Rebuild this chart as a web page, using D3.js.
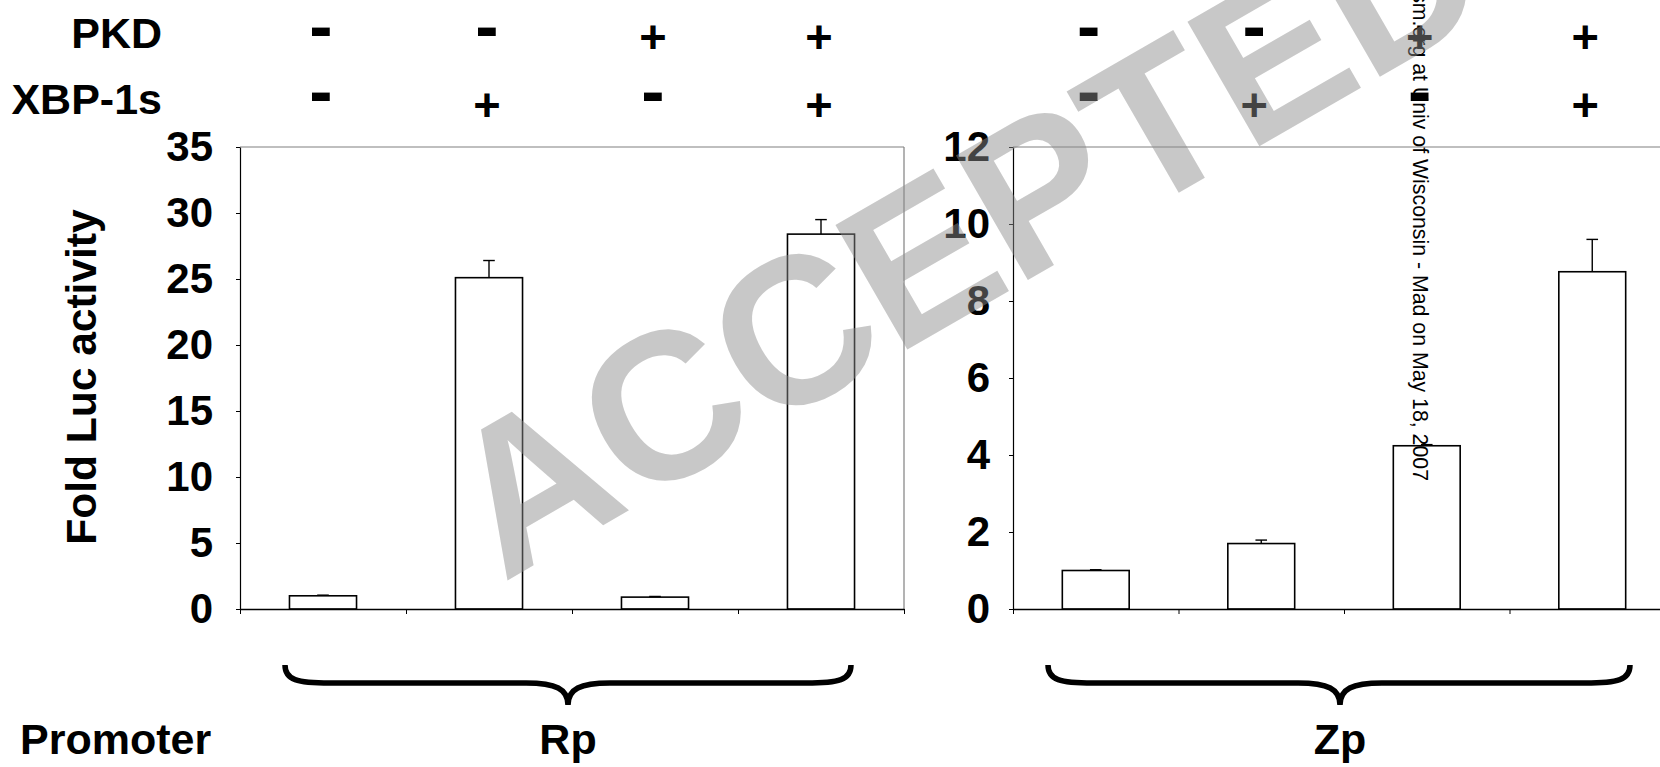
<!DOCTYPE html>
<html>
<head>
<meta charset="utf-8">
<script src="https://cdnjs.cloudflare.com/ajax/libs/d3/7.8.5/d3.min.js"></script>
<style>
  body { margin: 0; background: #fff; }
  svg { display: block; font-family: "Liberation Sans", Arial, sans-serif; }
</style>
</head>
<body>
<div id="chart"></div>
<script>
// values
var conditions = ["c1", "c2", "c3", "c4"];
var pkdSigns = ["-", "-", "+", "+"];
var xbpSigns = ["-", "+", "-", "+"];
var rpValues = [1.0, 25.1, 0.9, 28.4];
var rpErrors = [0.05, 1.3, 0.05, 1.1];
var zpValues = [1.0, 1.7, 4.24, 8.76];
var zpErrors = [0.02, 0.09, 0.03, 0.84];
var rpTicks = [0, 5, 10, 15, 20, 25, 30, 35];
var zpTicks = [0, 2, 4, 6, 8, 10, 12];
var rowLabels = ["PKD", "XBP-1s"];
var yTitle = "Fold Luc activity";
var groupTitle = "Promoter";
var watermark = "ACCEPTED";
var downloadNote = "Downloaded from jvi.asm.org at Univ of Wisconsin - Mad on May 18, 2007";

var width = 1660, height = 767;
var plotTop = 147, plotBottom = 609;
var labelSize = 43, tickSize = 42;

var panels = [
  {name: "Rp", values: rpValues, errors: rpErrors, ticks: rpTicks, max: 35,
   x0: 240, x1: 904, pad: 23, signShift: -2, frameRight: true, brace: [285, 851, 568]},
  {name: "Zp", values: zpValues, errors: zpErrors, ticks: zpTicks, max: 12,
   x0: 1013, x1: 1675, pad: 19, signShift: -7, frameRight: false, brace: [1048, 1630, 1340]}
];

var svg = d3.select("#chart").append("svg")
  .attr("width", width)
  .attr("height", height);

svg.append("rect").attr("width", width).attr("height", height).attr("fill", "#fff");

// row labels on the left
svg.append("text").attr("x", 162).attr("y", 48).attr("text-anchor", "end")
  .attr("font-size", labelSize).attr("font-weight", "bold").text(rowLabels[0]);
svg.append("text").attr("x", 162).attr("y", 114).attr("text-anchor", "end")
  .attr("font-size", labelSize).attr("font-weight", "bold").text(rowLabels[1]);
svg.append("text").attr("x", 20).attr("y", 754)
  .attr("font-size", labelSize).attr("font-weight", "bold").text(groupTitle);

svg.append("text")
  .attr("transform", "translate(96,377) rotate(-90)")
  .attr("text-anchor", "middle")
  .attr("font-size", 42.5).attr("font-weight", "bold")
  .text(yTitle);

function bracePath(a, b, m) {
  var y0 = 665, yh = 683, yt = 705;
  return "M" + a + "," + y0 +
    "C" + a + "," + (yh - 3) + " " + (a + 12) + "," + yh + " " + (a + 45) + "," + yh +
    "L" + (m - 42) + "," + yh +
    "C" + (m - 12) + "," + yh + " " + m + "," + (yh + 6) + " " + m + "," + yt +
    "C" + m + "," + (yh + 6) + " " + (m + 12) + "," + yh + " " + (m + 42) + "," + yh +
    "L" + (b - 45) + "," + yh +
    "C" + (b - 12) + "," + yh + " " + b + "," + (yh - 3) + " " + b + "," + y0;
}

function drawSign(g, s, cx, row) {
  // the figure's minus is a chunky bar, the plus sits a bit lower
  var isPlus = s == "+";
  var fs = isPlus ? 47 : 70;
  var yc = row == 0 ? (isPlus ? 36.7 : 32.5) : (isPlus ? 105 : 98.3);
  g.append("text")
    .attr("x", cx)
    .attr("y", yc + (isPlus ? 0.35 : 0.245) * fs)
    .attr("text-anchor", "middle")
    .attr("font-size", fs)
    .attr("font-weight", "bold")
    .text(s);
}

function drawPanel(p) {
  var g = svg.append("g");

  var x = d3.scaleBand().domain(conditions).range([p.x0, p.x1])
    .paddingInner(0.596).paddingOuter(0.298);
  var edges = d3.scaleLinear().domain([0, conditions.length]).range([p.x0, p.x1]);
  var y = d3.scaleLinear().domain([0, p.max]).range([plotBottom, plotTop]);

  // plot frame
  g.append("line")
    .attr("x1", p.x0).attr("x2", p.x1)
    .attr("y1", plotTop).attr("y2", plotTop)
    .attr("stroke", "#808080").attr("stroke-width", 1.2);
  if (p.frameRight) {
    g.append("line")
      .attr("x1", p.x1).attr("x2", p.x1)
      .attr("y1", plotTop).attr("y2", plotBottom)
      .attr("stroke", "#808080").attr("stroke-width", 1.2);
  }

  g.selectAll("rect.bar")
    .data(p.values)
    .enter().append("rect")
    .attr("class", "bar")
    .attr("x", function(d, i) { return x(conditions[i]); })
    .attr("y", function(d) { return y(d); })
    .attr("width", x.bandwidth())
    .attr("height", function(d) { return y(0) - y(d); })
    .attr("fill", "#fff")
    .attr("stroke", "#000")
    .attr("stroke-width", 1.6);

  var err = g.selectAll("g.err")
    .data(p.values)
    .enter().append("g")
    .attr("class", "err")
    .attr("stroke", "#000")
    .attr("stroke-width", 1.4);
  err.append("line")
    .attr("x1", function(d, i) { return x(conditions[i]) + x.bandwidth() / 2; })
    .attr("x2", function(d, i) { return x(conditions[i]) + x.bandwidth() / 2; })
    .attr("y1", function(d) { return y(d); })
    .attr("y2", function(d, i) { return y(d + p.errors[i]); });
  err.append("line")
    .attr("x1", function(d, i) { return x(conditions[i]) + x.bandwidth() / 2 - 5.8; })
    .attr("x2", function(d, i) { return x(conditions[i]) + x.bandwidth() / 2 + 5.8; })
    .attr("y1", function(d, i) { return y(d + p.errors[i]); })
    .attr("y2", function(d, i) { return y(d + p.errors[i]); });

  var yAxis = g.append("g")
    .attr("transform", "translate(" + p.x0 + ",0)")
    .call(d3.axisLeft(y).tickValues(p.ticks).tickSize(4).tickSizeOuter(0).tickPadding(p.pad));
  yAxis.attr("font-size", tickSize).attr("font-family", null);
  yAxis.selectAll("text").attr("font-weight", "bold").attr("fill", "#000");
  yAxis.select(".domain").attr("stroke-width", 1.2);

  var xAxis = g.append("g")
    .attr("transform", "translate(0," + plotBottom + ")")
    .call(d3.axisBottom(edges).tickValues(d3.range(0, conditions.length + 1)).tickFormat("").tickSize(5).tickSizeOuter(0));
  xAxis.select(".domain").attr("stroke-width", 1.5);

  conditions.forEach(function(c, i) {
    var cx = x(c) + x.bandwidth() / 2 + p.signShift;
    drawSign(g, pkdSigns[i], cx, 0);
    drawSign(g, xbpSigns[i], cx, 1);
  });

  g.append("path")
    .attr("d", bracePath(p.brace[0], p.brace[1], p.brace[2]))
    .attr("fill", "none")
    .attr("stroke", "#000")
    .attr("stroke-width", 5.5);

  g.append("text")
    .attr("x", p.brace[2])
    .attr("y", 754)
    .attr("text-anchor", "middle")
    .attr("font-size", labelSize)
    .attr("font-weight", "bold")
    .text(p.name);
}

panels.forEach(drawPanel);

// download stamp running down the page
svg.append("text")
  .attr("transform", "translate(1413,481) rotate(90)")
  .attr("text-anchor", "end")
  .attr("font-size", 21.3)
  .text(downloadNote);

// translucent grey stamp over everything
svg.append("text")
  .attr("transform", "translate(503,583) rotate(-30)")
  .attr("font-size", 209)
  .attr("font-weight", "bold")
  .attr("fill", "#8d8d8d")
  .attr("fill-opacity", 0.48)
  .text(watermark);
</script>
</body>
</html>
